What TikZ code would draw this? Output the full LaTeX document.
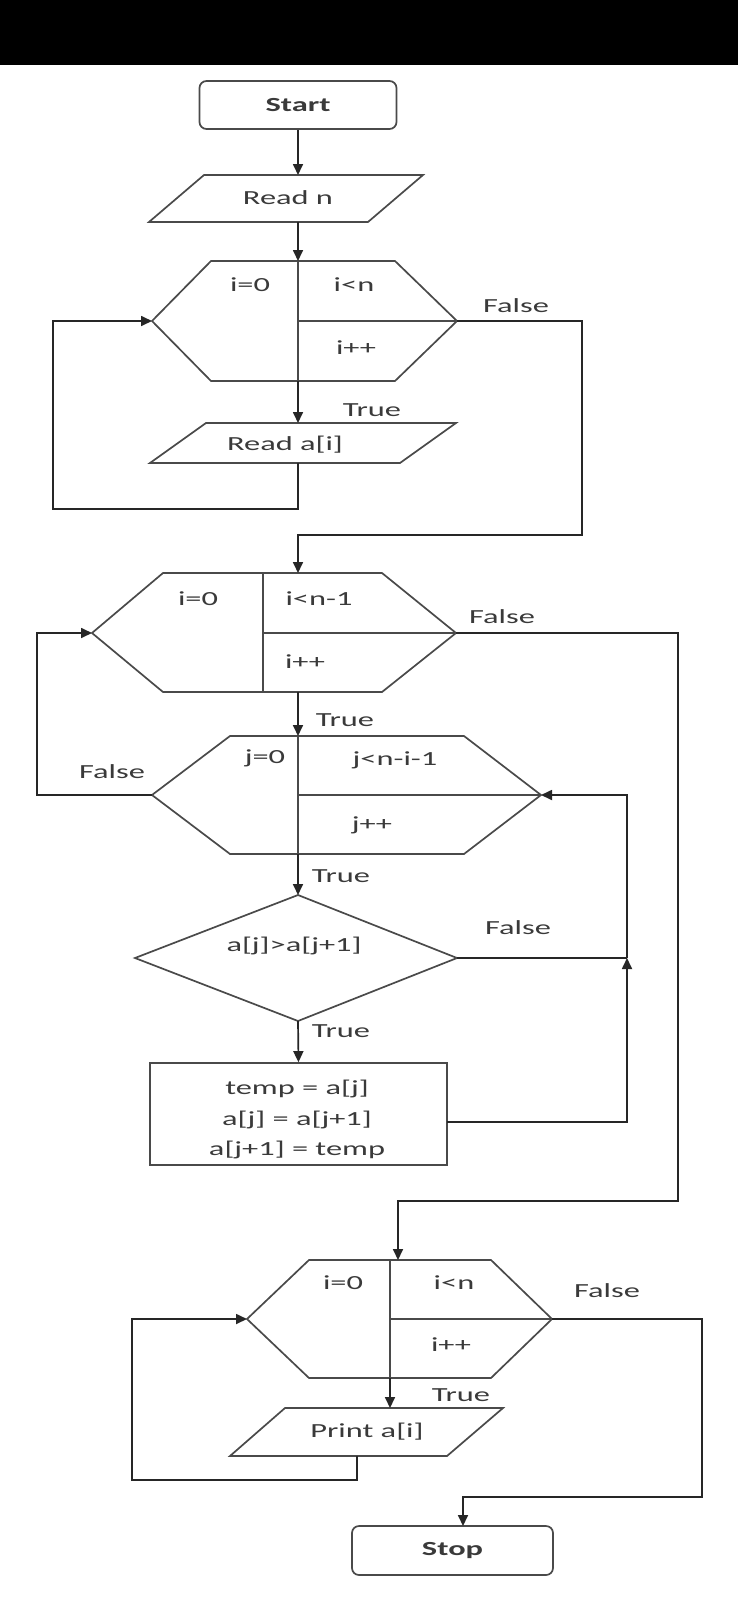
\documentclass[tikz,border=0pt]{standalone}
\usepackage{fontspec}
\setmainfont{Carlito}
\usetikzlibrary{arrows.meta}
\definecolor{linegray}{HTML}{4A4A4A}
\definecolor{txtgray}{HTML}{3A3A3A}
\newcommand{\tx}[1]{\scalebox{1.62}[1]{#1}}
\begin{document}
\begin{tikzpicture}[x=1pt,y=-1pt,
  shp/.style={draw=linegray, line width=1.7pt, line join=miter},
  conn/.style={draw=black!85, line width=1.7pt},
  arr/.style={conn, -{Triangle[length=11pt,width=10pt]}},
  lbl/.style={text=txtgray, font=\fontsize{20}{24}\selectfont, inner sep=0pt},
  term/.style={draw=linegray, line width=1.7pt, rounded corners=7pt,
    minimum width=#1, minimum height=48pt, inner sep=0pt,
    font=\bfseries\fontsize{20}{24}\selectfont, text=txtgray},
  box/.style={draw=linegray, line width=1.7pt, inner sep=0pt}
]
\useasboundingbox (0,0) rectangle (738,1600);
\fill[white] (0,0) rectangle (738,1600);
\fill[black] (0,0) rectangle (738,65);

% ---------- Start / Read n ----------
\node[term=197pt] (start) at (298,105) {\tx{Start}};
\draw[shp] (204,175) -- (423,175) -- (368,222) -- (149,222) -- cycle;
\node[lbl] (readn) at (288,198) {\tx{Read n}};
\coordinate (rnT) at (298,175);
\coordinate (rnB) at (298,222);

% ---------- Loop 1 (read) ----------
\draw[shp] (211,261) -- (395,261) -- (457,321) -- (395,381) -- (211,381) -- (152,321) -- cycle;
\draw[shp] (298,261) -- (298,381);
\draw[shp] (298,321) -- (457,321);
\coordinate (h1T) at (298,261);
\coordinate (h1B) at (298,381);
\coordinate (h1L) at (152,321);
\coordinate (h1R) at (457,321);
\node[lbl] (h1a) at (250,285) {\tx{i=0}};
\node[lbl] (h1b) at (354,285) {\tx{i<n}};
\node[lbl] (h1c) at (356,348) {\tx{i++}};
\node[lbl] (h1f) at (516,306) {\tx{False}};
\node[lbl] (h1t) at (372,410) {\tx{True}};

\draw[shp] (206,423) -- (456,423) -- (400,463) -- (150,463) -- cycle;
\node[lbl] (reada) at (285,445) {\tx{Read a[i]}};
\coordinate (raT) at (298,423);
\coordinate (raB) at (298,463);
\coordinate (c1) at (53,509);
\coordinate (c2) at (582,535);

\draw[arr] (start.south) -- (rnT);
\draw[arr] (rnB) -- (h1T);
\draw[arr] (h1B) -- (raT);
\draw[arr] (raB) |- (c1) |- (h1L);

% ---------- Outer loop (i) ----------
\draw[shp] (163,573) -- (382,573) -- (456,633) -- (382,692) -- (163,692) -- (92,633) -- cycle;
\draw[shp] (263,573) -- (263,692);
\draw[shp] (263,633) -- (456,633);
\coordinate (h2T) at (298,573);
\coordinate (h2B) at (298,692);
\coordinate (h2L) at (92,633);
\coordinate (h2R) at (456,633);
\node[lbl] (h2a) at (198,599) {\tx{i=0}};
\node[lbl] (h2b) at (319,599) {\tx{i<n-1}};
\node[lbl] (h2c) at (305,662) {\tx{i++}};
\node[lbl] (h2f) at (502,617) {\tx{False}};
\node[lbl] (h2t) at (345,720) {\tx{True}};

\draw[arr] (h1R) -| (c2) -| (h2T);

% ---------- Inner loop (j) ----------
\draw[shp] (230,736) -- (464,736) -- (541,795) -- (464,854) -- (230,854) -- (152,795) -- cycle;
\draw[shp] (298,736) -- (298,854);
\draw[shp] (298,795) -- (541,795);
\coordinate (h3T) at (298,736);
\coordinate (h3B) at (298,854);
\coordinate (h3L) at (152,795);
\coordinate (h3R) at (541,795);
\node[lbl] (h3a) at (265,758) {\tx{j=0}};
\node[lbl] (h3b) at (395,760) {\tx{j<n-i-1}};
\node[lbl] (h3c) at (372,825) {\tx{j++}};
\node[lbl] (h3f) at (112,772) {\tx{False}};
\node[lbl] (h3t) at (341,876) {\tx{True}};
\coordinate (c3) at (37,633);

\draw[arr] (h2B) -- (h3T);
\draw[arr] (h3L) -| (c3) -- (h2L);

% ---------- Compare ----------
\draw[shp] (298,895) -- (457,958) -- (298,1021) -- (135,958) -- cycle;
\coordinate (dT) at (298,895);
\coordinate (dB) at (298,1021);
\coordinate (dR) at (457,958);
\node[lbl] (dtext) at (294,946) {\tx{a[j]>a[j+1]}};
\node[lbl] (df) at (518,928) {\tx{False}};
\node[lbl] (dt) at (341,1031) {\tx{True}};

\draw[arr] (h3B) -- (dT);

% ---------- Swap ----------
\node[box, minimum width=297pt, minimum height=102pt] (swap) at (298.5,1114) {};
\node[lbl, font=\fontsize{20}{30.5}\selectfont] (swaptxt) at (297,1119)
  {\tx{\begin{tabular}{@{}c@{}}temp = a[j]\\ a[j] = a[j+1]\\ a[j+1] = temp\end{tabular}}};
\coordinate (sR) at (447,1122);
\coordinate (jn) at (627,958);
\coordinate (c4) at (627,1122);

\draw[arr] (dB) -- (swap.north);
\draw[conn] (dR) -- (jn);
\draw[arr] (sR) -- (c4) -- (jn);
\draw[arr] (jn) |- (h3R);

% ---------- Print loop ----------
\draw[shp] (309,1260) -- (491,1260) -- (552,1319) -- (491,1378) -- (309,1378) -- (247,1319) -- cycle;
\draw[shp] (390,1260) -- (390,1378);
\draw[shp] (390,1319) -- (552,1319);
\coordinate (h4T) at (398,1260);
\coordinate (h4B) at (390,1378);
\coordinate (h4L) at (247,1319);
\coordinate (h4R) at (552,1319);
\node[lbl] (h4a) at (343,1283) {\tx{i=0}};
\node[lbl] (h4b) at (454,1283) {\tx{i<n}};
\node[lbl] (h4c) at (451,1345) {\tx{i++}};
\node[lbl] (h4f) at (607,1291) {\tx{False}};
\node[lbl] (h4t) at (461,1395) {\tx{True}};
\coordinate (c5) at (678,1201);

\draw[arr] (h2R) -| (c5) -| (h4T);

\draw[shp] (285,1408) -- (503,1408) -- (447,1456) -- (230,1456) -- cycle;
\node[lbl] (print) at (367,1432) {\tx{Print a[i]}};
\coordinate (pT) at (390,1408);
\coordinate (pB) at (357,1456);
\coordinate (c6) at (132,1480);
\coordinate (c7) at (702,1497);

\draw[arr] (h4B) -- (pT);
\draw[arr] (pB) |- (c6) |- (h4L);

% ---------- Stop ----------
\node[term=201pt, minimum height=49pt] (stop) at (452.5,1550.5) {\tx{Stop}};
\coordinate (sT) at (463,1526);
\draw[arr] (h4R) -| (c7) -| (sT);
\end{tikzpicture}
\end{document}
